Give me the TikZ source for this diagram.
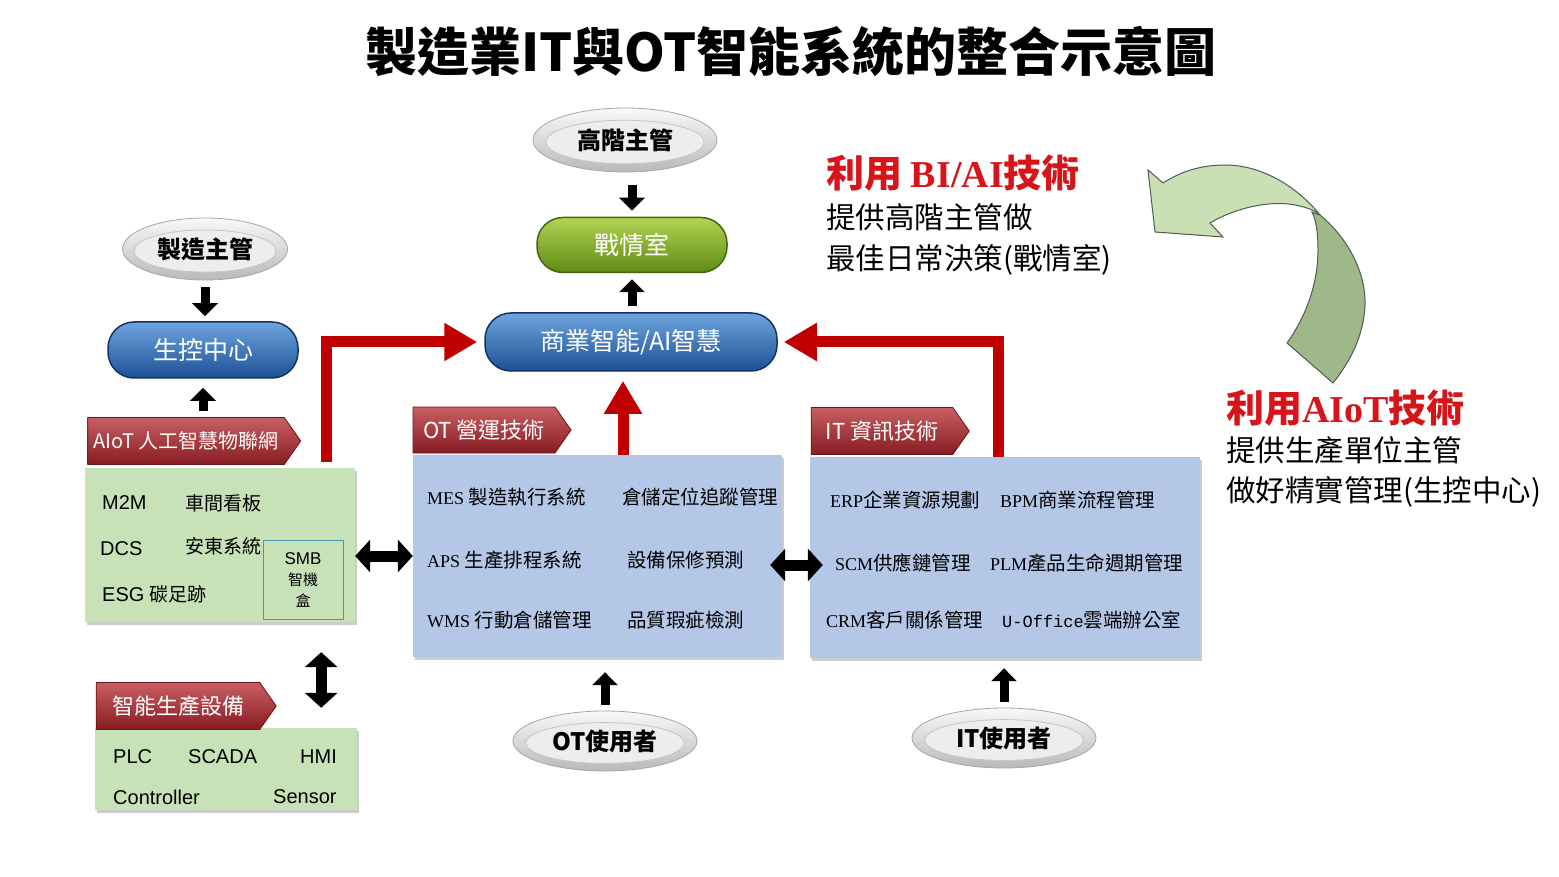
\documentclass[tikz,border=0pt]{standalone}
\usepackage{fontspec}
\setmainfont{Noto Sans CJK TC}
\newfontfamily\arialf{Liberation Sans}
\newfontfamily\timesf{Liberation Serif}
\newfontfamily\monof{Liberation Mono}
\usetikzlibrary{arrows.meta,shapes.geometric,shapes.symbols,shadows,calc}
\newcommand\setfs[1]{\fontsize{#1}{#1}\selectfont}
\newcommand\latn[1]{{\timesf\setfs{18}#1}}
\definecolor{boxgreen}{RGB}{200,226,184}
\definecolor{boxblue}{RGB}{180,199,231}
\definecolor{arrred}{RGB}{192,0,0}
\definecolor{headred}{RGB}{215,20,25}
\definecolor{bannertop}{RGB}{200,95,98}
\definecolor{bannerbot}{RGB}{135,28,34}
\definecolor{bannerline}{RGB}{105,20,25}
\definecolor{pillbluetop}{RGB}{110,165,222}
\definecolor{pillbluebot}{RGB}{28,80,150}
\definecolor{pillblueline}{RGB}{20,50,100}
\definecolor{pillgreentop}{RGB}{178,210,82}
\definecolor{pillgreenbot}{RGB}{95,140,20}
\definecolor{pillgreenline}{RGB}{70,100,20}
\definecolor{ltgreen}{RGB}{200,224,180}
\definecolor{dkgreen}{RGB}{158,184,138}
\definecolor{curveline}{RGB}{80,90,80}
\definecolor{smbline}{RGB}{75,150,180}
\tikzset{
  txt/.style={anchor=west, inner sep=0pt},
  grayell/.style 2 args={ellipse, minimum width=#1, minimum height=#2, inner sep=0pt,
    top color=gray!5, bottom color=gray!55, draw=gray!70, line width=0.8pt,
    font=\bfseries\setfs{24},
    path picture={\fill[gray!14, draw=gray!45] ([yshift=-2pt]path picture bounding box.center)
      ellipse [x radius=0.43*#1, y radius=0.34*#2];}},
  pill/.style={rectangle, rounded corners=26pt, inner sep=0pt, text=white,
    font=\setfs{25}, line width=1.5pt},
  bluepill/.style={pill, top color=pillbluetop, bottom color=pillbluebot, draw=pillblueline},
  greenpill/.style={pill, top color=pillgreentop, bottom color=pillgreenbot, draw=pillgreenline},
  banner/.style={signal, signal to=east, signal pointer angle=110, inner sep=0pt,
    top color=bannertop, bottom color=bannerbot, draw=bannerline, line width=0.8pt,
    text=white, font=\setfs{22}},
  boxshadow/.style={drop shadow={shadow xshift=2pt, shadow yshift=-3pt, opacity=.4}},
  greenbox/.style={rectangle, fill=boxgreen, boxshadow, inner sep=0pt},
  bluebox/.style={rectangle, fill=boxblue, boxshadow, inner sep=0pt},
  blk/.style={line width=9pt, -{Triangle[length=13pt,width=25pt]}},
  dbl/.style={line width=11pt, {Triangle[length=15pt,width=32pt]}-{Triangle[length=15pt,width=32pt]}},
  redarrow/.style={line width=11pt, draw=arrred, -{Triangle[length=33pt,width=36pt]}},
  boxtxt/.style={txt, font=\setfs{19.5}},
  artxt/.style={txt, font=\arialf\setfs{20}}
}
\begin{document}
\begin{tikzpicture}[x=1pt,y=-1pt]
\useasboundingbox (0,0) rectangle (1559,877);
\fill[white] (0,0) rectangle (1559,877);

% title
\node[font=\bfseries\setfs{52}] (title) at (791,52) {製造業IT與OT智能系統的整合示意圖};

% top centre
\node[grayell={184pt}{64pt}] (gm) at (625,140) {高階主管};
\node[greenpill, minimum width=190pt, minimum height=55pt] (war) at (632,245) {戰情室};
\node[bluepill, minimum width=292pt, minimum height=58pt] (bi) at (631,342) {商業智能/AI智慧};

% left column
\node[grayell={165pt}{62pt}] (mm) at (205,249) {製造主管};
\node[bluepill, minimum width=190pt, minimum height=56pt] (ctrl) at (203,350) {生控中心};

\node[greenbox, minimum width=270pt, minimum height=154pt] (aiotbox) at (220,545) {};
\node[banner, minimum width=213pt, minimum height=47pt, font=\setfs{20}] (aiotban) at (186,441) {AIoT 人工智慧物聯網};
\node[artxt] (m2m) at (102,503) {M2M};
\node[artxt] (dcs) at (100,549) {DCS};
\node[artxt] (esg) at (102,594) {ESG {\rmfamily\setfs{19}碳足跡}};
\node[boxtxt, font=\setfs{19}] (kanban) at (185,503) {車間看板};
\node[boxtxt, font=\setfs{19}] (andon) at (185,546) {安東系統};
\node[draw=smbline, line width=1pt, minimum width=80pt, minimum height=79pt, inner sep=0pt,
  align=center, font=\fontsize{15}{21}\selectfont] (smb) at (303,580) {{\arialf\setfs{17}SMB}\\智機\\盒};

\node[greenbox, minimum width=262pt, minimum height=82pt] (eqbox) at (226,769) {};
\node[banner, minimum width=180pt, minimum height=47pt] (eqban) at (178,706) {智能生產設備};
\node[artxt] (plc) at (113,757) {PLC};
\node[artxt] (scada) at (188,757) {SCADA};
\node[artxt] (hmi) at (300,757) {HMI};
\node[artxt] (ctl) at (113,797) {Controller};
\node[artxt] (sensor) at (273,797) {Sensor};

% OT box
\node[bluebox, minimum width=369pt, minimum height=202pt] (otbox) at (597.5,556) {};
\node[banner, minimum width=158pt, minimum height=46pt] (otban) at (484,430) {OT 營運技術};
\node[boxtxt] (mes) at (427,497) {\latn{MES} 製造執行系統};
\node[boxtxt] (aps) at (427,560) {\latn{APS} 生產排程系統};
\node[boxtxt] (wms) at (427,620) {\latn{WMS} 行動倉儲管理};
\node[boxtxt] (wh) at (622,497) {倉儲定位追蹤管理};
\node[boxtxt] (pm) at (627,560) {設備保修預測};
\node[boxtxt] (qc) at (627,620) {品質瑕疵檢測};

% IT box
\node[bluebox, minimum width=390pt, minimum height=201pt] (itbox) at (1005,557.5) {};
\node[banner, minimum width=158pt, minimum height=47pt] (itban) at (882,431) {IT 資訊技術};
\node[boxtxt] (erp) at (830,500) {\latn{ERP}企業資源規劃};
\node[boxtxt] (bpm) at (1000,500) {\latn{BPM}商業流程管理};
\node[boxtxt] (scm) at (835,563) {\latn{SCM}供應鏈管理};
\node[boxtxt] (plm) at (990,563) {\latn{PLM}產品生命週期管理};
\node[boxtxt] (crm) at (826,620) {\latn{CRM}客戶關係管理};
\node[boxtxt] (uoff) at (1002,620) {{\monof\setfs{17}U-Office}雲端辦公室};

% users
\node[grayell={184pt}{60pt}] (otu) at (605,741) {OT使用者};
\node[grayell={184pt}{60pt}] (itu) at (1004,738) {IT使用者};

% right texts
\node[txt, text=headred, font=\bfseries\setfs{38}] (h1) at (826,173) {利用 {\timesf BI/AI}技術};
\node[txt, font=\setfs{29.5}] (l1a) at (826,217) {提供高階主管做};
\node[txt, font=\setfs{29.5}] (l1b) at (826,260) {最佳日常決策(戰情室)};
\node[txt, text=headred, font=\bfseries\setfs{38}] (h2) at (1226,408) {利用{\timesf AIoT}技術};
\node[txt, font=\setfs{29.5}] (l2a) at (1226,450) {提供生產單位主管};
\node[txt, font=\setfs{29.5}] (l2b) at (1226,492) {做好精實管理(生控中心)};

% curved green arrow
\draw[fill=dkgreen, draw=curveline, line width=1pt]
  (1287,343) .. controls (1305,318) and (1318,285) .. (1318,250)
  .. controls (1318,232) and (1316,220) .. (1312,212) -- (1320,215)
  .. controls (1350,240) and (1366,275) .. (1365,305)
  .. controls (1364,335) and (1350,362) .. (1333,383) -- cycle;
\draw[fill=ltgreen, draw=curveline, line width=1pt]
  (1320,215) .. controls (1300,190) and (1265,165) .. (1225,165)
  .. controls (1200,165) and (1180,172) .. (1163,183) -- (1148,170) -- (1155,232)
  -- (1223,237) -- (1210,223)
  .. controls (1235,208) and (1270,200) .. (1295,205)
  .. controls (1305,207) and (1315,210) .. (1320,215) -- cycle;

% black arrows
\draw[blk, shorten <=13pt, shorten >=6pt] (war.north |- gm.south) -- (war.north);
\draw[blk, shorten <=6pt, shorten >=6pt] (bi.north -| war.south) -- (war.south);
\draw[blk, shorten <=7pt, shorten >=5pt] (mm.south) -- (mm.south |- ctrl.north);
\draw[blk, shorten <=6pt, shorten >=9pt] (aiotban.north -| ctrl.south) -- (ctrl.south);
\draw[blk, shorten <=6pt, shorten >=15pt] (otu.north) -- (otu.north |- otbox.south);
\draw[blk, shorten <=6pt, shorten >=10pt] (itu.north) -- (itu.north |- itbox.south);

% double arrows
\draw[dbl] (aiotbox.east |- otbox.west) -- (otbox.west);
\draw[dbl] ($(otbox.east)+(-12,9)$) -- ($(itbox.west |- otbox.east)+(13,9)$);
\draw[dbl] ($(aiotbox.south east)+(-34,30)$) -- ($(eqbox.north east)+(-36,-20)$);

% red arrows
\coordinate (rl) at (326,462);
\coordinate (rr) at (998,457);
\coordinate (rm) at (623,455);
\draw[redarrow, shorten >=7pt] (rl) |- (bi.west);
\draw[redarrow, shorten >=6pt] (rr) |- (bi.east);
\draw[redarrow, shorten >=9pt] (rm) -- (rm |- bi.south);
\end{tikzpicture}
\end{document}
